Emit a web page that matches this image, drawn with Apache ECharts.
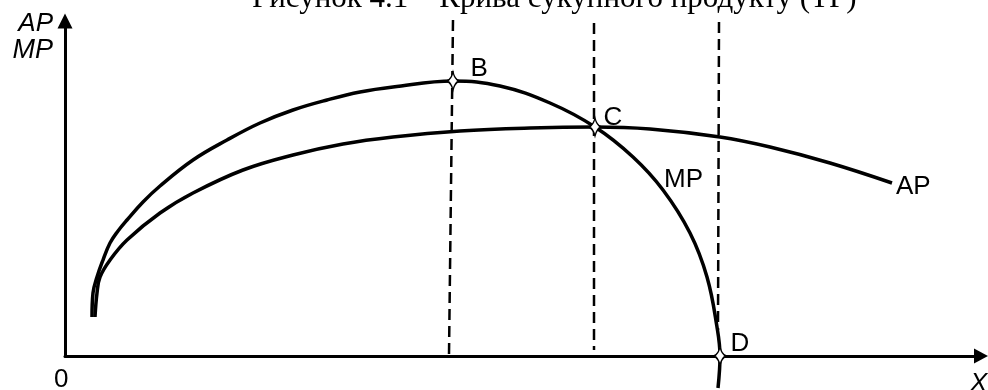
<!DOCTYPE html>
<html>
<head>
<meta charset="utf-8">
<script src="https://cdn.jsdelivr.net/npm/echarts@6/dist/echarts.min.js"></script>
<style>
  html, body { margin: 0; padding: 0; background: #fff; }
  #chart { width: 988px; height: 390px; }
</style>
</head>
<body>
<div id="chart"></div>
<script>
// values (x = labour, y = product), origin at the axes corner
const apCurve = [
  [30, 39], [32, 63], [35, 79], [45, 96], [62, 116], [95, 143], [128, 163],
  [178, 186], [228, 201], [278, 212], [328, 219], [395, 225], [465, 228],
  [530, 229], [585, 227], [655, 219], [705, 209], [765, 193], [827, 173]
]
const mpCurve = [
  [27, 39], [28, 63], [32, 79], [38, 96], [45, 113], [53, 125], [62, 136],
  [78, 154], [95, 170], [128, 196], [162, 216], [195, 233], [228, 246],
  [262, 256], [295, 264], [328, 269], [388, 275], [435, 270], [485, 253],
  [530, 229], [568, 199], [598, 166], [625, 123], [642, 79], [652, 29],
  [655, 0], [653, -32]
]
const dropLines = [
  [[388, 336], [384, 1]],
  [[529, 333], [529, 6]],
  [[654, 334], [653, 26]]
]
const keyPoints = [
  { name: 'B', value: [388, 275] },
  { name: 'C', value: [530, 229] },
  { name: 'D', value: [655, 0] }
]
const titleText = 'Рисунок 4.1 – Крива сукупного продукту (ТР)'
const yAxisLabels = ['AP', 'MP']
const xAxisLabel = 'X'
const originLabel = '0'
const curveNames = ['AP', 'MP']

const star = 'path://M0,-10 Q2,-2 7,0 Q2,2 0,10 Q-2,2 -7,0 Q-2,-2 0,-10 Z'
const sans = '"Liberation Sans", Arial, sans-serif'

const chart = echarts.init(document.getElementById('chart'), null, { renderer: 'canvas' })

const series = [
  {
    name: curveNames[0],
    type: 'line',
    data: apCurve,
    smooth: 0.4,
    showSymbol: false,
    clip: false,
    lineStyle: { color: '#000', width: 3.5 },
    endLabel: {
      show: true,
      formatter: curveNames[0],
      color: '#000',
      fontFamily: sans,
      fontSize: 26,
      distance: 4,
      offset: [0, 4]
    },
    z: 3
  },
  {
    name: curveNames[1],
    type: 'line',
    data: mpCurve,
    smooth: 0.4,
    showSymbol: false,
    clip: false,
    lineStyle: { color: '#000', width: 3.5 },
    z: 3
  }
]

dropLines.forEach(function (seg) {
  series.push({
    type: 'line',
    data: seg,
    showSymbol: false,
    clip: false,
    lineStyle: { color: '#000', width: 2.5, type: [11, 6] },
    z: 2
  })
})

const labelTweaks = {
  B: { distance: 11, offset: [0, -12] },
  C: { distance: 2, offset: [0, -9] },
  D: { distance: 4, offset: [0, -12] }
}

series.push({
  type: 'scatter',
  data: keyPoints.map(function (p) {
    return {
      name: p.name,
      value: p.value,
      label: {
        show: true,
        position: 'right',
        formatter: p.name,
        distance: labelTweaks[p.name].distance,
        offset: labelTweaks[p.name].offset
      }
    }
  }),
  symbol: star,
  symbolSize: [12, 18],
  clip: false,
  itemStyle: { color: '#fff', borderColor: '#000', borderWidth: 1.5, opacity: 1 },
  label: { color: '#000', fontFamily: sans, fontSize: 26 },
  z: 5
})

const option = {
  animation: false,
  backgroundColor: '#fff',
  grid: { left: 65, right: 7, top: 21, bottom: 34 },
  xAxis: {
    type: 'value',
    min: 0,
    max: 916,
    axisLine: {
      show: true,
      symbol: ['none', 'triangle'],
      symbolSize: [15, 14],
      lineStyle: { color: '#000', width: 3 }
    },
    axisTick: { show: false },
    axisLabel: { show: false },
    splitLine: { show: false }
  },
  yAxis: {
    type: 'value',
    min: 0,
    max: 335,
    axisLine: {
      show: true,
      symbol: ['none', 'triangle'],
      symbolSize: [15, 15],
      lineStyle: { color: '#000', width: 3 }
    },
    axisTick: { show: false },
    axisLabel: { show: false },
    splitLine: { show: false }
  },
  graphic: [
    {
      type: 'text',
      left: 252,
      top: -17,
      style: { text: titleText, font: '31px "Liberation Serif", "Times New Roman", serif', fill: '#000' }
    },
    {
      type: 'text',
      right: 935,
      top: 11,
      style: { text: yAxisLabels[0], font: 'italic 26px ' + sans, fill: '#000' }
    },
    {
      type: 'text',
      right: 935,
      top: 37,
      style: { text: yAxisLabels[1], font: 'italic 27px ' + sans, fill: '#000' }
    },
    {
      type: 'text',
      left: 664,
      top: 167,
      style: { text: curveNames[1], font: '26px ' + sans, fill: '#000' }
    },
    {
      type: 'text',
      left: 54,
      top: 367,
      style: { text: originLabel, font: '26px ' + sans, fill: '#000' }
    },
    {
      type: 'text',
      left: 970,
      top: 371,
      style: { text: xAxisLabel, font: 'italic 26px ' + sans, fill: '#000' }
    }
  ],
  series: series
}

chart.setOption(option)
</script>
</body>
</html>
